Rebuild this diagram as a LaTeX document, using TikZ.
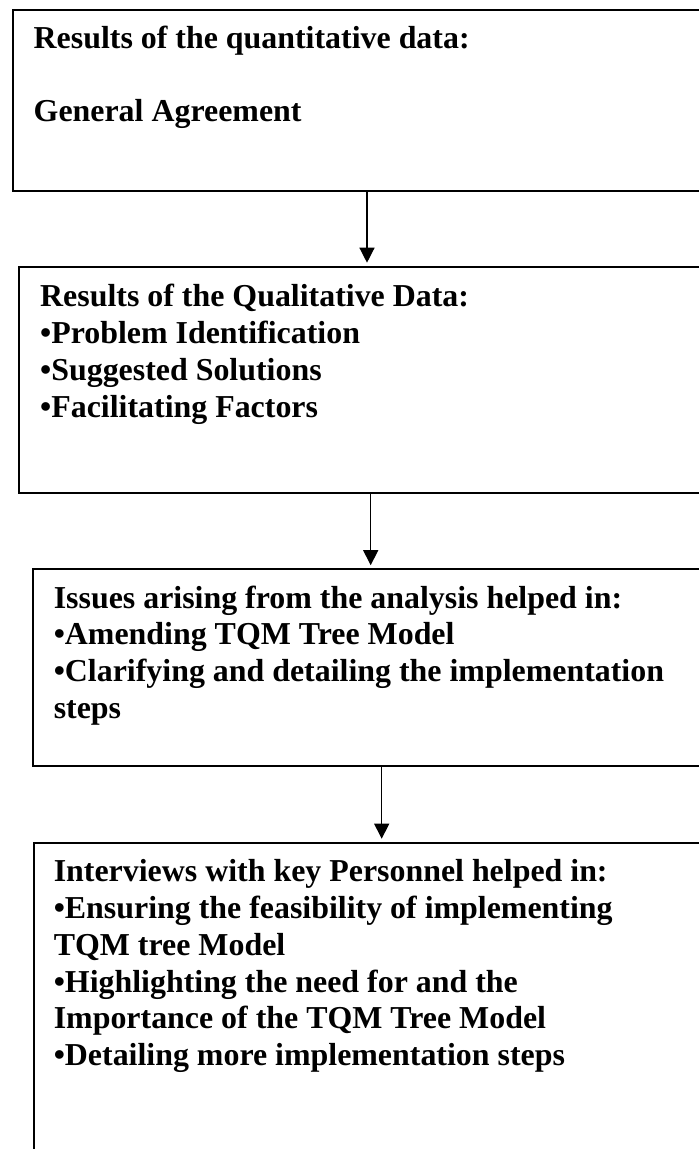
\documentclass[tikz,border=0pt]{standalone}
\usepackage{fontspec}
\setmainfont{Liberation Serif}
\usetikzlibrary{arrows.meta}
% fixed-height strut so the first baseline sits a known distance below the node top
\newcommand{\firstline}{\rule{0pt}{29pt}}
\begin{document}
\begin{tikzpicture}[x=1pt,y=-1pt,
  stage/.style={draw=black, line width=2pt, rectangle, anchor=north west,
                inner sep=0pt, outer sep=0pt},
  label/.style={anchor=north west, align=left, inner sep=0pt,
                font=\fontsize{31.9}{36.7}\selectfont\bfseries},
  flow/.style={draw=black, line width=1.3pt,
               -{Triangle[width=15pt,length=15pt]}, shorten >=4pt}]
\useasboundingbox (0,0) rectangle (699,1149);
\clip (0,0) rectangle (699,1149);

% stage boxes (they run past the right and bottom edges)
\node[stage, minimum width=708.6pt, minimum height=181.2pt] (b1) at (12.7,9.5) {};
\node[stage, minimum width=703.4pt, minimum height=226pt]   (b2) at (19,266.7) {};
\node[stage, minimum width=696.8pt, minimum height=196.8pt] (b3) at (33.3,569.2) {};
\node[stage, minimum width=700pt,   minimum height=330pt]   (b4) at (34.3,842.7) {};

% box texts (node top = first baseline - 29)
\node[label] (t1) at (33.5,19.3) {\firstline Results of the quantitative data:\\[36.7pt]General Agreement};
\node[label] (t2) at (40,277.7) {\firstline Results of the Qualitative Data:\\
  •Problem Identification\\
  •Suggested Solutions\\
  •Facilitating Factors};
\node[label] (t3) at (53.6,579) {\firstline Issues arising from the analysis helped in:\\
  •Amending TQM Tree Model\\
  •Clarifying and detailing the implementation\\
  steps};
\node[label] (t4) at (53.6,852.7) {\firstline Interviews with key Personnel helped in:\\
  •Ensuring the feasibility of implementing\\
  TQM tree Model\\
  •Highlighting the need for and the\\
  Importance of the TQM Tree Model\\
  •Detailing more implementation steps};

% connectors
\draw[flow] (b1.south) -- (b1.south |- b2.north);
\draw[flow] (b2.south) -- (b2.south |- b3.north);
\draw[flow] (b3.south) -- (b3.south |- b4.north);
\end{tikzpicture}
\end{document}
